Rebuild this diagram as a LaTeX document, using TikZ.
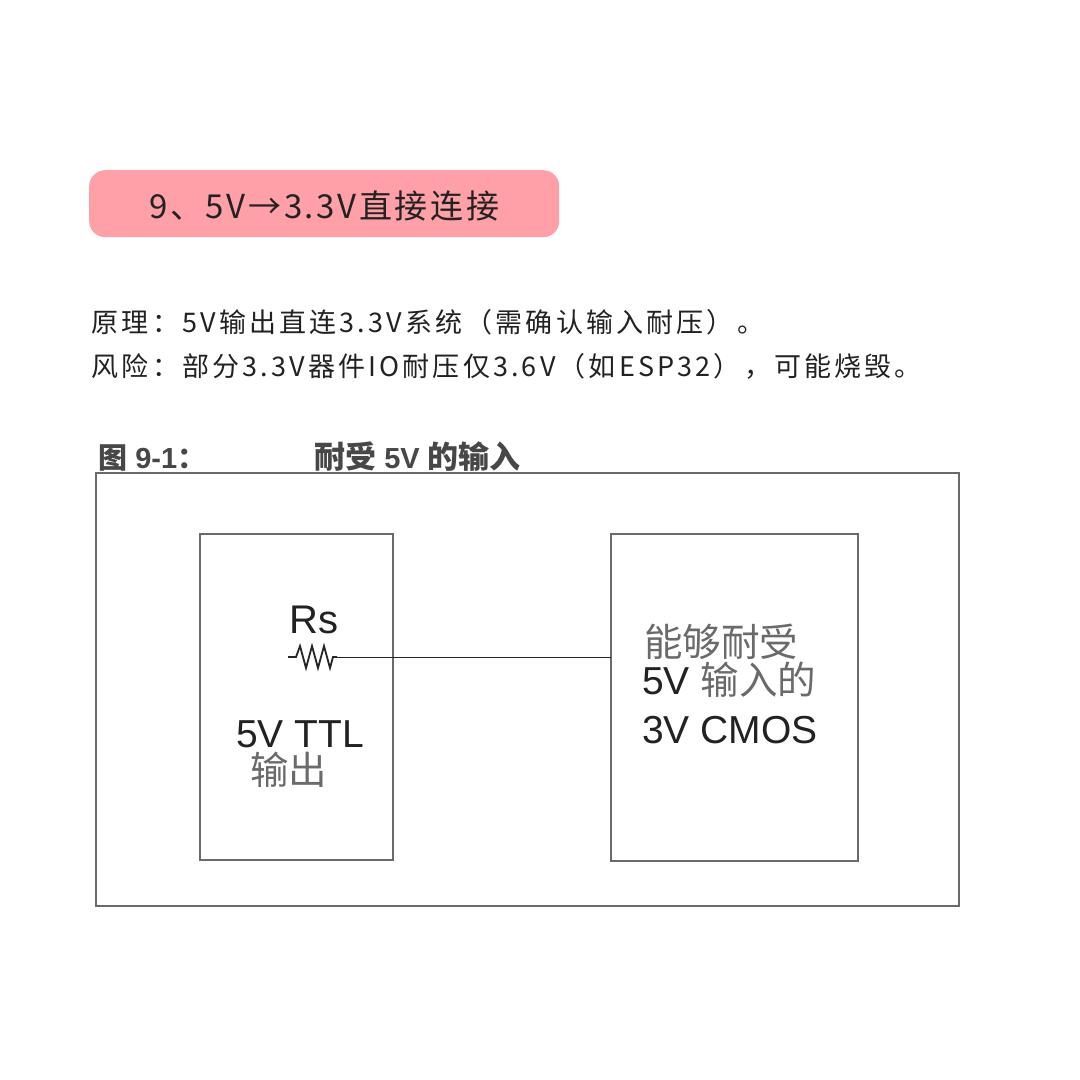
\documentclass[tikz,border=0pt]{standalone}
\usepackage{fontspec}
\setmainfont{Liberation Sans}
\newfontfamily\cjk{Noto Sans CJK SC}
\newfontfamily\cjkwide[LetterSpace=11.7]{Noto Sans CJK SC}
\newfontfamily\cjktitle[LetterSpace=8]{Noto Sans CJK SC}
\definecolor{pinkfill}{HTML}{FFA0A8}
\definecolor{inkdark}{HTML}{222222}
\definecolor{framegrey}{HTML}{6A6A6A}
\definecolor{softgrey}{HTML}{6A6A6A}
\tikzset{
  x=1pt,y=-1pt,
  txt/.style={inner sep=0pt,anchor=base west,text=inkdark},
  framebox/.style={draw=framegrey,line width=2pt,inner sep=0pt,outer sep=0pt,anchor=north west},
  wire/.style={draw=black!85,line width=1pt},
  diag/.style={txt,text depth=0pt,font=\fontsize{39}{39}\selectfont},
  soft/.style={txt,text=softgrey,text height=27pt,font=\cjk\fontsize{38.5}{38.5}\selectfont},
  figcap/.style={txt,text=black!72,font=\bfseries\fontsize{29}{29}\selectfont},
  bodyline/.style={txt,font=\cjkwide\fontsize{27}{27}\selectfont},
}
\begin{document}
\begin{tikzpicture}
\useasboundingbox (0,0) rectangle (1080,1080);
\fill[white] (0,0) rectangle (1080,1080);
\node[anchor=north west,inner sep=0pt,fill=pinkfill,rounded corners=16pt,minimum width=470pt,minimum height=67pt] (titlebar) at (89,170) {};
\node[txt,font=\cjktitle\fontsize{33}{33}\selectfont] (titletext) at (149,218) {9、5V→3.3V直接连接};
\node[bodyline] (line1) at (91.5,332) {原理：5V输出直连3.3V系统（需确认输入耐压）。};
\node[bodyline] (line2) at (91.5,376) {风险：部分3.3V器件IO耐压仅3.6V（如ESP32），可能烧毁。};
\node[figcap] (figno) at (98,468) {{\cjk\bfseries 图} 9-1{\cjk\bfseries ：}};
\node[figcap] (figname) at (314,468) {{\cjk\bfseries\fontsize{31}{31}\selectfont 耐受} 5V {\cjk\bfseries\fontsize{31}{31}\selectfont 的输入}};
\node[framebox,minimum width=863pt,minimum height=433pt] (outer) at (96,473) {};
\node[framebox,minimum width=193.5pt,minimum height=326pt] (left) at (199.5,534) {};
\node[framebox,minimum width=247pt,minimum height=327pt] (right) at (611,534) {};
\node[txt,font=\fontsize{40}{40}\selectfont] (rs) at (289.5,633) {Rs};
\coordinate (rs-in) at (288,657);
\coordinate (rs-out) at (337,657);
\draw[line width=1.8pt,draw=black!85,line join=miter] (rs-in) -- (296,657) -- (300,646) -- (306,668) -- (312,646) -- (318,668) -- (324,646) -- (330,668) -- (333,657) -- (rs-out);
\draw[wire] (rs-out) -- (right.west |- rs-out);
\node[diag] (ttl) at (236,747) {5V TTL};
\node[soft] (out) at (250,784) {输出};
\node[soft] (can) at (644,656) {能够耐受};
\node[diag] (in5) at (642,694) {5V {\cjk\color{softgrey}\fontsize{38.5}{38.5}\selectfont 输入的}};
\node[diag] (cmos) at (642,743) {3V CMOS};
\end{tikzpicture}
\end{document}
